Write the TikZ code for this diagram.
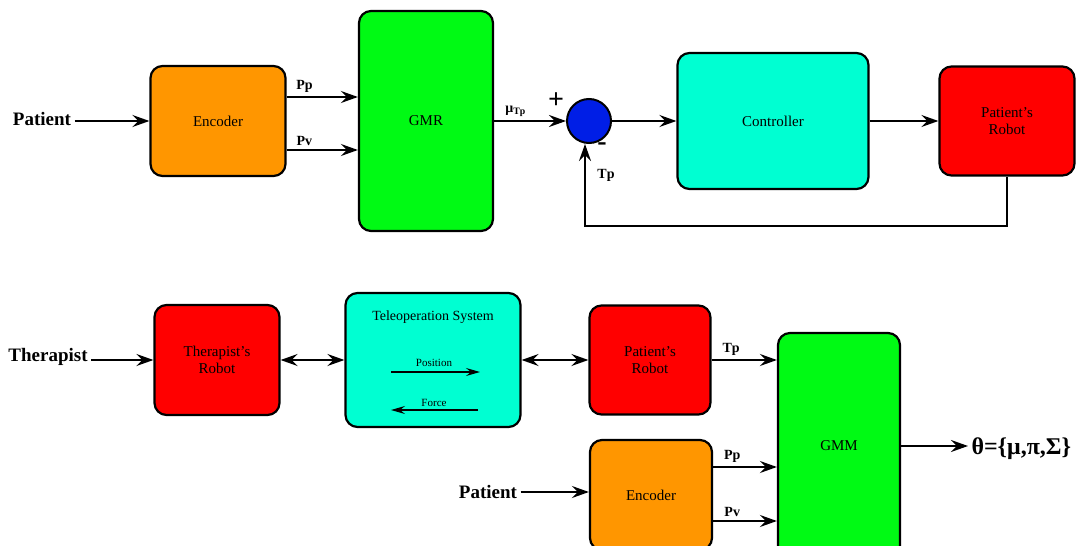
\documentclass[tikz,border=0pt]{standalone}
\usepackage{fontspec}
\setmainfont{Liberation Serif}
\usepackage{xcolor}
\usetikzlibrary{arrows.meta}

\definecolor{encorange}{RGB}{255,150,0}
\definecolor{gmrgreen}{RGB}{0,250,20}
\definecolor{ctrlcyan}{RGB}{0,255,210}
\definecolor{robotred}{RGB}{255,0,0}
\definecolor{sumblue}{RGB}{0,30,230}

\begin{document}
\begin{tikzpicture}[x=1pt, y=-1pt,
    block/.style={draw, line width=2.2pt, rounded corners=12pt, align=center, font=\fontsize{15}{17}\selectfont},
    arr/.style={line width=2pt, -{Stealth[length=17pt,width=12pt,inset=6pt]}},
    biarr/.style={line width=2pt, {Stealth[length=17pt,width=12pt,inset=6pt]}-{Stealth[length=17pt,width=12pt,inset=6pt]}},
    thinarr/.style={line width=1.4pt, -{Stealth[length=14pt,width=8pt,inset=5pt]}},
    lbl/.style={font=\bfseries\fontsize{14}{16}\selectfont},
    big/.style={font=\bfseries\fontsize{19}{21}\selectfont}]
    \useasboundingbox (0,0) rectangle (1080,546);
    \clip (0,0) rectangle (1080,546);

    % top row
    \node (pat1) [big] at (42,119) {Patient};
    \node (enc1) [block, fill=encorange, minimum width=135, minimum height=110] at (218,121) {Encoder};
    \node (gmr) [block, fill=gmrgreen, minimum width=134, minimum height=220] at (426,121) {GMR};
    \node (sum) [circle, draw, line width=2pt, fill=sumblue, minimum size=44] at (589,121) {};
    \node (ctrl) [block, fill=ctrlcyan, minimum width=191, minimum height=136] at (773,121) {Controller};
    \node (prob1) [block, fill=robotred, minimum width=135, minimum height=109] at (1007,121) {Patient's\\Robot};

    \coordinate (pp1) at ([yshift=24pt]enc1.east);
    \coordinate (pv1) at ([yshift=-29pt]enc1.east);
    \coordinate (fb) at ([xshift=-4pt]sum.south);
    \draw[arr] (enc1.west -| pat1.east) -- (enc1.west);
    \draw[arr] (pp1) -- node[lbl, above, pos=0.25] {Pp} (pp1 -| gmr.west);
    \draw[arr] (pv1) -- node[lbl, above, pos=0.25] {Pv} (pv1 -| gmr.west);
    \draw[arr] (gmr.east) -- node[lbl, above, pos=0.3] {μ\textsubscript{Tp}} (sum.west);
    \draw[arr] (sum.east) -- (ctrl.west);
    \draw[arr] (ctrl.east) -- (prob1.west);
    \draw[arr] (prob1.south) -- ++(0,49) -| (fb);
    \node (plus) [font=\bfseries\fontsize{28}{28}\selectfont] at (556,101) {+};
    \node (minus) [font=\bfseries\fontsize{28}{28}\selectfont] at (602,147) {-};
    \node (tp1) [lbl] at (606,175) {Tp};

    % bottom row
    \node (ther) [big] at (48,357) {Therapist};
    \node (trob) [block, fill=robotred, minimum width=125, minimum height=110] at (217,360) {Therapist's\\Robot};
    \node (tele) [block, fill=ctrlcyan, minimum width=175, minimum height=134] at (433,360) {};
    \node (teletitle) [font=\fontsize{14}{16}\selectfont] at (433,317) {Teleoperation System};
    \node (posit) [font=\fontsize{11}{13}\selectfont] at (434,363) {Position};
    \node (force) [font=\fontsize{11}{13}\selectfont] at (434,403) {Force};
    \coordinate (posL) at (391,372);
    \coordinate (posR) at (480,372);
    \coordinate (forL) at (391,410);
    \coordinate (forR) at (478,410);
    \draw[thinarr] (posL) -- (posR);
    \draw[thinarr] (forR) -- (forL);
    \node (prob2) [block, fill=robotred, minimum width=121, minimum height=109] at (650,360) {Patient's\\Robot};
    \node (gmm) [block, fill=gmrgreen, minimum width=122, minimum height=226] at (839,446) {GMM};
    \node (enc2) [block, fill=encorange, minimum width=122, minimum height=110] at (651,495) {Encoder};
    \node (pat2) [big] at (488,492) {Patient};
    \node (theta) [anchor=west, font=\bfseries\fontsize{24}{26}\selectfont] at (968,449) {θ=\{μ,π,Σ\}};

    \coordinate (pp2) at ([yshift=28pt]enc2.east);
    \coordinate (pv2) at ([yshift=-26pt]enc2.east);
    \draw[arr] (trob.west -| ther.east) -- (trob.west);
    \draw[biarr] (trob.east) -- (tele.west);
    \draw[biarr] (tele.east) -- (prob2.west);
    \draw[arr] (prob2.east) -- node[lbl, above, pos=0.3] {Tp} (prob2.east -| gmm.west);
    \draw[arr] (pat2.east) -- (pat2.east -| enc2.west);
    \draw[arr] (pp2) -- node[lbl, above, pos=0.3] {Pp} (pp2 -| gmm.west);
    \draw[arr] (pv2) -- node[lbl, above, pos=0.3] {Pv} (pv2 -| gmm.west);
    \draw[arr] (gmm.east) -- (gmm.east -| theta.west);
\end{tikzpicture}
\end{document}
